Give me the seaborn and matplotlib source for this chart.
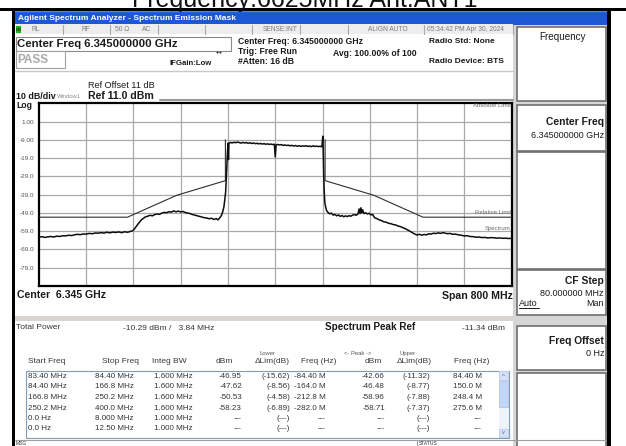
import matplotlib
matplotlib.use("Agg")
import matplotlib.pyplot as plt
import pandas as pd
import seaborn as sns
from matplotlib.patches import Rectangle
from matplotlib.lines import Line2D

# ---------------------------------------------------------------- data
# Measured trace: offset from the 6.345 GHz centre (MHz) and level (dBm)
trace_offset_mhz = [
    -400, -395, -390, -385, -380, -375, -370, -365, -360, -355, -350, -345,
    -340, -335, -330, -325, -320, -315, -310, -305, -300, -295, -290, -285,
    -280, -275, -270, -265, -260, -255, -250, -245, -241, -238, -235, -232,
    -229, -226, -223, -220, -216, -212, -208, -204, -200, -196, -192, -188,
    -184, -180, -176, -172, -168, -164, -160, -156, -152, -148, -144, -140,
    -136, -132, -128, -124, -120, -116, -112, -108, -104, -100, -97, -94,
    -91, -89, -87, -85.5, -84, -83, -82, -81, -80, -79.2, -78.4,
    -76, -73, -70, -67, -64, -61, -58, -55, -52, -49, -46, -43, -40, -37,
    -34, -31, -28, -25, -22, -19, -16, -13, -10, -7, -4, -1.5, 0, 1.5,
    4, 7, 10, 13, 16, 19, 22, 25, 28, 31, 34, 37, 40, 43, 46, 49, 52, 55,
    58, 61, 64, 67, 70, 73, 76, 79, 80.5, 81.2, 82, 83, 84, 85.5, 87, 89,
    92, 95, 98, 101, 104, 107, 110, 113, 116, 119, 122, 125, 128, 131, 134,
    137, 140, 142, 143.5, 145, 146.5, 148, 150, 153, 156, 159, 162, 165,
    168, 172, 176, 180, 184, 188, 192, 196, 200, 204, 208, 212, 216, 220,
    224, 228, 232, 236, 240, 244, 248, 252, 256, 260, 264, 268, 272, 276,
    280, 284, 288, 292, 296, 300, 305, 310, 315, 320, 325, 330, 335, 340,
    345, 350, 355, 360, 365, 370, 375, 380, 385, 390, 395, 400,
]
trace_dbm = [
    -62.3, -62.0, -62.4, -62.1, -61.9, -62.2, -61.7, -61.9, -61.5, -61.6, -61.2, -61.4,
    -61.0, -60.7, -60.9, -60.5, -60.6, -60.2, -60.4, -60.0, -60.1, -59.8, -60.0, -59.6,
    -59.9, -59.5, -59.7, -59.4, -59.8, -59.3, -59.6, -59.1, -58.7, -57.6, -56.2, -54.9,
    -53.7, -52.6, -51.9, -51.2, -50.8, -50.3, -50.6, -49.9, -49.6, -49.8, -49.1, -48.7,
    -48.9, -48.3, -48.6, -47.9, -48.4, -48.0, -48.5, -48.2, -48.8, -49.1, -49.4, -49.9,
    -50.2, -50.6, -50.9, -51.3, -51.6, -51.8, -52.2, -51.9, -52.6, -52.1, -52.8, -51.7,
    -50.3, -48.4, -45.8, -42.0, -37.5, -31.0, -24.0, -16.0, -10.8, -19.8, -11.0,
    -10.4, -10.7, -10.3, -10.6, -10.2, -10.5, -10.8, -10.4, -10.7, -10.5, -10.9, -10.6, -11.0, -10.7,
    -11.1, -10.9, -11.2, -11.0, -11.3, -11.1, -11.4, -11.2, -11.5, -11.3, -11.6, -11.4, -18.4, -11.7,
    -11.5, -11.8, -11.6, -12.0, -11.8, -12.1, -11.9, -12.3, -12.0, -12.4, -12.1, -12.5, -12.2, -12.6, -12.3, -12.5, -12.2, -12.6,
    -12.4, -12.7, -12.3, -12.6, -12.4, -12.7, -12.5, -12.8, -7.0, -15.0, -28.0, -38.0, -43.5, -46.0, -47.8, -48.6,
    -49.5, -49.1, -50.2, -49.8, -50.6, -50.1, -50.9, -50.4, -51.1, -50.6, -51.0, -50.5, -50.8, -50.2, -49.9,
    -50.3, -49.6, -46.8, -49.4, -46.2, -49.0, -47.3, -49.3, -48.9, -49.6, -49.2, -50.1, -49.8,
    -51.6, -52.1, -52.8, -53.2, -53.9, -54.1, -54.7, -54.9, -55.4, -55.6, -56.2, -56.5, -57.1, -57.6,
    -58.3, -59.0, -59.8, -60.5, -61.1, -60.7, -61.2, -60.8, -61.0, -60.4, -60.6, -60.1, -60.3, -59.9,
    -60.2, -59.8, -60.1, -60.4, -60.2, -60.7, -60.6, -61.0, -61.2, -61.6, -61.5, -61.9, -62.0, -62.3,
    -62.2, -62.5, -62.4, -62.7, -62.5, -62.6, -62.8, -62.7, -62.9, -62.8, -63.0, -62.9,
]

# Emission mask (lower and upper halves), offset in MHz and limit in dBm
mask_lower_offset = [-400, -250.2, -166.8, -84.4, -84.4]
mask_lower_dbm = [-51.34, -51.34, -39.34, -31.34, -9.0]
mask_upper_offset = [84.4, 84.4, 166.8, 250.2, 400]
mask_upper_dbm = [-9.0, -31.34, -39.34, -51.34, -51.34]

ref_level_dbm = 11.0
db_per_div = 10
span_mhz = 800
y_tick_values = [1, -9, -19, -29, -39, -49, -59, -69, -79]
y_tick_labels = ["1.00", "-9.00", "-19.0", "-29.0", "-39.0", "-49.0", "-59.0", "-69.0", "-79.0"]
x_grid_offsets = [-320, -240, -160, -80, 0, 80, 160, 240, 320]

# Result table
start_freq = ["83.40 MHz", "84.40 MHz", "166.8 MHz", "250.2 MHz", "0.0 Hz", "0.0 Hz"]
stop_freq = ["84.40 MHz", "166.8 MHz", "250.2 MHz", "400.0 MHz", "8.000 MHz", "12.50 MHz"]
integ_bw = ["1.600 MHz", "1.600 MHz", "1.600 MHz", "1.600 MHz", "1.000 MHz", "1.000 MHz"]
lower_dbm = ["-46.95", "-47.62", "-50.53", "-58.23", "---", "---"]
lower_dlim = ["(-15.62)", "(-8.56)", "(-4.58)", "(-6.89)", "(---)", "(---)"]
lower_freq = ["-84.40 M", "-164.0 M", "-212.8 M", "-282.0 M", "---", "---"]
upper_dbm = ["-42.66", "-46.48", "-58.96", "-58.71", "---", "---"]
upper_dlim = ["(-11.32)", "(-8.77)", "(-7.88)", "(-7.37)", "(---)", "(---)"]
upper_freq = ["84.40 M", "150.0 M", "248.4 M", "275.6 M", "---", "---"]

# ---------------------------------------------------------------- style
sns.set_style("white")
plt.rcParams["font.family"] = ["Liberation Sans", "DejaVu Sans"]

W, H = 626, 446
fig = plt.figure(figsize=(W / 100, H / 100), dpi=100)
fig.patch.set_facecolor("white")


def rect(x0, y0, x1, y1, fc, ec="none", lw=0.0, z=-5):
    fig.add_artist(Rectangle((x0 / W, 1 - y1 / H), (x1 - x0) / W, (y1 - y0) / H,
                             transform=fig.transFigure, facecolor=fc,
                             edgecolor=ec, linewidth=lw, zorder=z))


def line(x0, y0, x1, y1, color="#808080", lw=1.0, z=-4):
    fig.add_artist(Line2D([x0 / W, x1 / W], [1 - y0 / H, 1 - y1 / H],
                          transform=fig.transFigure, color=color, lw=lw, zorder=z))


def txt(x, y, s, size=6.0, weight="normal", color="#1a1a1a", ha="left", va="center", **kw):
    fig.text(x / W, 1 - y / H, s, fontsize=size, fontweight=weight, color=color,
             ha=ha, va=va, **kw)


# ---------------------------------------------------------------- frame
txt(305, 6.5, "Frequency:6625MHz Ant:ANT1", size=18, ha="center", va="baseline", color="#111111")
rect(0, 8.5, W, 10.5, "black", z=-3)
rect(12, 10, 15, H, "black", z=-3)
rect(606.5, 10, 611, H, "black", z=-3)

# title bar
rect(15, 10.5, 606.5, 24.5, "#1d58d4")
line(15, 11, 606.5, 11, color="#4f86ec", lw=1)
txt(18, 18, "Agilent Spectrum Analyzer - Spectrum Emission Mask", size=6, weight="bold", color="white")

# status row
rect(15, 24.5, 513, 34, "#ededed")
for xs in [63, 110, 158, 205, 252, 300, 348, 424, 513]:
    line(xs, 25, xs, 34, color="#a8a8a8", lw=0.8)
rect(15.5, 26, 21, 33, "#19b319", z=-3)
txt(18.2, 29.6, "LXI", size=2.6, weight="bold", ha="center", color="#103010")
for xs, s in [(32, "RL"), (82, "RF"), (115, "50 Ω"), (142, "AC"), (263, "SENSE:INT"),
              (368, "ALIGN AUTO"), (427, "05:34:42 PM Apr 30, 2024")]:
    txt(xs, 29.8, s, size=4.8, color="#7a7a7a")

# settings block
rect(15.5, 36.5, 231, 50.5, "white", ec="#8a8a8a", lw=0.8)
txt(17, 43.8, "Center Freq 6.345000000 GHz", size=8.2, weight="bold")
rect(15.5, 51.5, 65, 68, "white", ec="#a0a0a0", lw=0.8)
txt(17.5, 60, "PASS", size=8.5, weight="bold", color="#a9a9a9")
txt(170, 63.5, "IFGain:Low", size=5.6, weight="bold")
txt(219, 53.3, "↔", size=5, ha="center", family="DejaVu Sans", color="#333333")
txt(238, 41.2, "Center Freq: 6.345000000 GHz", size=6.2, weight="bold")
txt(238, 51.2, "Trig: Free Run", size=6.2, weight="bold")
txt(238, 61.2, "#Atten: 16 dB", size=6.2, weight="bold")
txt(333, 53.3, "Avg: 100.00% of 100", size=6.2, weight="bold")
txt(429, 41.5, "Radio Std: None", size=6.0, weight="bold")
txt(429, 61.5, "Radio Device: BTS", size=6.0, weight="bold")

line(15, 70.5, 513, 70.5, color="#c8c8c8", lw=1)
txt(87.5, 85, "Ref Offset 11 dB", size=6.6)
txt(87.5, 96, "Ref 11.0 dBm", size=7.6, weight="bold")
txt(16.5, 96.5, "10 dB/div", size=6.4, weight="bold")
txt(57, 96, "Window1", size=4.2, color="#8a8a8a")
txt(16.5, 105.5, "Log", size=6.2, weight="bold")
line(160, 99.5, 513, 99.5, color="#9a9a9a", lw=1.5)

# softkey column
rect(513, 24.5, 606.5, H, "#d6d6d6")
for y0, y1 in [(27.5, 101.5), (104.5, 151), (152, 268.5), (270, 315), (326, 369.5), (372.5, H + 2)]:
    rect(517, y0, 605.5, y1, "white", ec="#6f6f6f", lw=1.2, z=-4)
txt(562, 37.5, "Frequency", size=7.1, ha="center")
txt(604, 121.5, "Center Freq", size=7.4, weight="bold", ha="right")
txt(604, 135, "6.345000000 GHz", size=6.5, ha="right")
txt(604, 281.5, "CF Step", size=7.4, weight="bold", ha="right")
txt(604, 293.3, "80.000000 MHz", size=6.5, ha="right")
txt(518.5, 303.5, "Auto", size=6.5)
line(518.5, 307.5, 539, 307.5, color="#1a1a1a", lw=0.7, z=2)
txt(604, 303.5, "Man", size=6.5, ha="right")
txt(604, 341, "Freq Offset", size=7.4, weight="bold", ha="right")
txt(604, 353, "0 Hz", size=6.5, ha="right")

# ---------------------------------------------------------------- spectrum
ax = fig.add_axes([39 / W, 1 - 286 / H, (511.5 - 39) / W, (286 - 103.3) / H])
ax.set_facecolor("white")

trace_df = pd.DataFrame({"offset": trace_offset_mhz, "level": trace_dbm})
lower_df = pd.DataFrame({"offset": mask_lower_offset, "level": mask_lower_dbm})
upper_df = pd.DataFrame({"offset": mask_upper_offset, "level": mask_upper_dbm})

for df in (lower_df, upper_df):
    sns.lineplot(data=df, x="offset", y="level", ax=ax, color="#2e2e2e", lw=0.8,
                 estimator=None, sort=False, zorder=3)
sns.lineplot(data=trace_df, x="offset", y="level", ax=ax, color="#0d0d0d", lw=1.1,
             estimator=None, sort=False, zorder=4)

ax.set_xlim(-span_mhz / 2, span_mhz / 2)
ax.set_ylim(ref_level_dbm - 10 * db_per_div, ref_level_dbm)
ax.set_xticks(x_grid_offsets)
ax.set_xticklabels([])
ax.set_yticks(y_tick_values)
ax.set_yticklabels(y_tick_labels)
ax.tick_params(length=0, labelsize=4.6, labelcolor="#555555", pad=3.5)
ax.grid(True, color="#a9a9a9", lw=0.9)
ax.set_xlabel("")
ax.set_ylabel("")
for sp in ax.spines.values():
    sp.set_color("black")
    sp.set_linewidth(1.6)

lab_kw = dict(transform=ax.transAxes, fontsize=4.3, color="#6a6a6a", clip_on=True, va="center")
ax.text(0.918, 0.99, "Absolute Limit", **lab_kw)
ax.text(0.923, 0.402, "Relative Limit", **lab_kw)
ax.text(0.944, 0.315, "Spectrum", **lab_kw)

txt(17, 295.5, "Center  6.345 GHz", size=7.6, weight="bold")
txt(513, 296, "Span 800 MHz", size=7.6, weight="bold", ha="right")

# ---------------------------------------------------------------- results
rect(15, 316, 513, 321, "#d8d5cf")
txt(16.5, 327.5, "Total Power", size=6, color="#333333")
txt(123, 328, "-10.29 dBm /   3.84 MHz", size=6, color="#333333")
txt(325, 327.5, "Spectrum Peak Ref", size=7.1, weight="bold")
txt(462, 328, "-11.34 dBm", size=6, color="#333333")

txt(267, 353.5, "Lower", size=4.2, ha="center", color="#555555")
txt(358, 353.5, "<- Peak ->", size=4.2, ha="center", color="#555555")
txt(407.5, 353.5, "Upper", size=4.2, ha="center", color="#555555")

hy = 361.8
for xs, s in [(28.3, "Start Freq"), (102, "Stop Freq"), (152, "Integ BW"), (216, "dBm"),
              (255, "ΔLim(dB)"), (301, "Freq (Hz)"), (365, "dBm"), (397, "ΔLim(dB)"),
              (454, "Freq (Hz)")]:
    txt(xs, hy, s, size=6, color="#3a3a3a")

rect(25.5, 370.5, 509, 438, "white", ec="#7f9db9", lw=0.8, z=-4)
rect(498.5, 371, 508.5, 437.5, "#eef2fb", z=-3)
rect(498.8, 371.3, 508.2, 380, "#d6e1f7", ec="#b5c6ea", lw=0.5, z=-2)
rect(499.2, 381, 507.8, 407, "#c5d5f5", ec="#aabfe9", lw=0.5, z=-2)
rect(498.8, 428.8, 508.2, 437.2, "#d6e1f7", ec="#b5c6ea", lw=0.5, z=-2)
txt(503.5, 376, "^", size=4.5, ha="center", color="#4d6185")
txt(503.5, 432.5, "v", size=4, ha="center", color="#4d6185")

row_y = [376.5, 387, 397.5, 408, 418.5, 429]
columns = [
    (start_freq, 28, "left"), (stop_freq, 95, "left"), (integ_bw, 154, "left"),
    (lower_dbm, 242, "right"), (lower_dlim, 290, "right"), (lower_freq, 326, "right"),
    (upper_dbm, 385, "right"), (upper_dlim, 430, "right"), (upper_freq, 482, "right"),
]
for values, xs, align in columns:
    for yv, s in zip(row_y, values):
        txt(xs, yv, s, size=5.8, ha=align, color="#333333")

# message / status bar
line(15, 439.5, 606, 439.5, color="#a0a0a0", lw=0.8)
line(416.5, 439.5, 416.5, H, color="#a0a0a0", lw=0.8)
txt(16, 443.5, "MSG", size=3.6, color="#333333")
txt(418.5, 443.5, "STATUS", size=3.6, color="#333333")

fig.savefig("out.png", dpi=100)
